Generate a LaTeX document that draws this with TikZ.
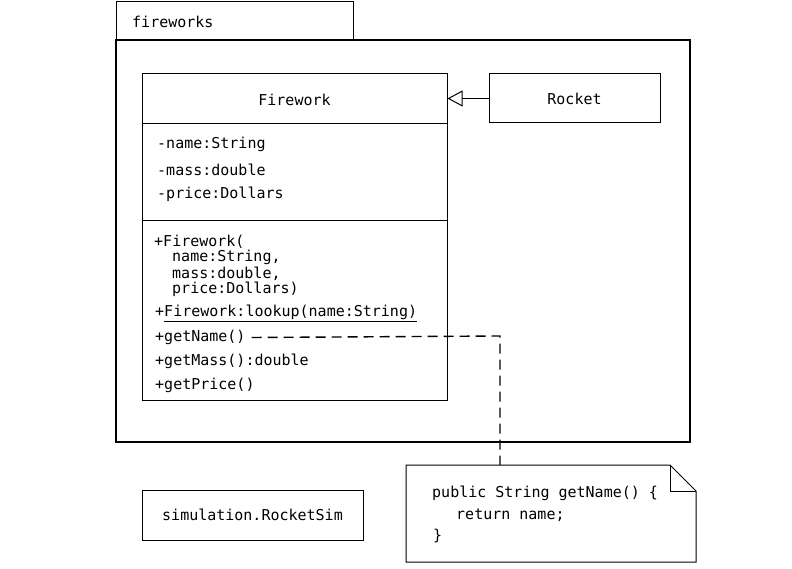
\documentclass[tikz,border=0pt]{standalone}
\usepackage{fontspec}
\setmonofont{DejaVu Sans Mono}
\usetikzlibrary{arrows.meta,positioning}
\tikzset{
	umltext/.style={font=\ttfamily\fontsize{15}{16}\selectfont, inner sep=0pt},
	linetext/.style={umltext, anchor=west, yshift=-1.5pt},
	umlbox/.style={draw, line width=1pt, inner sep=0pt},
	notelink/.style={line width=1.4pt, dash pattern=on 10pt off 6pt},
}

\begin{document}
\begin{tikzpicture}[x=1pt, y=-1pt]
		%%%%% START %%%%%
		\useasboundingbox (0,0) rectangle (792,569);
		
		% package fireworks
		\draw[line width=1pt] (116,2) rectangle (353,40);
		\draw[line width=1.4pt] (116,40) rectangle (690,442);
		\node[linetext] (pkgname) at (132,20) {fireworks};
		
		% class Firework
		\node[umlbox, minimum width=305pt, minimum height=326pt] (fw) at (294.5,237) {};
		\draw[line width=1pt] (142,124) -- (447,124);
		\draw[line width=1pt] (142,221) -- (447,221);
		\node[umltext, yshift=-1pt] (fwname) at (294.5,99) {Firework};
		
		\node[linetext] (attname) at (157,143) {-name:String};
		\node[linetext] (attmass) at (157,168) {-mass:double};
		\node[linetext] (attprice) at (157,193) {-price:Dollars};
		
		\node[linetext] (ctor) at (154,240) {+Firework(};
		\node[linetext] (ctorname) at (172,256) {name:String,};
		\node[linetext] (ctormass) at (172,272) {mass:double,};
		\node[linetext] (ctorprice) at (172,288) {price:Dollars)};
		\node[linetext] (lookup) at (155,312) {+\underline{Firework:lookup(name:String)}};
		\node[linetext] (getname) at (155,336) {+getName()};
		\node[linetext] (getmass) at (155,360) {+getMass():double};
		\node[linetext] (getprice) at (155,384) {+getPrice()};
		
		% class Rocket
		\node[umlbox, minimum width=171pt, minimum height=49pt, umltext, draw, line width=1pt] (rocket) at (574.5,98.5) {Rocket};
		\draw[line width=0.8pt, -{Triangle[open, length=15pt, width=16pt, line width=1pt]}] (rocket.west) -- (fw.east |- rocket.west);
		
		% note
		\draw[line width=1pt] (406,465) -- (670,465) -- (696,491) -- (696,562) -- (406,562) -- cycle;
		\draw[line width=1pt] (670,465) -- (670,491) -- (696,491);
		\node[minimum width=290pt, minimum height=97pt, inner sep=0pt] (note) at (551,513.5) {};
		\node[linetext] (code1) at (432,492) {public String getName() \{};
		\node[linetext] (code2) at (456,514) {return name;};
		\node[linetext] (code3) at (433,535) {\}};
		
		\coordinate (bend) at (500,336);
		\draw[notelink] ([xshift=6pt]getname.east) -- (bend) -- (bend |- note.north);
		
		% class simulation.RocketSim
		\node[umlbox, minimum width=221pt, minimum height=50pt, umltext, draw, line width=1pt] (sim) at (252.5,515) {simulation.RocketSim};
		
		%%%%% END %%%%%
\end{tikzpicture}
\end{document}
